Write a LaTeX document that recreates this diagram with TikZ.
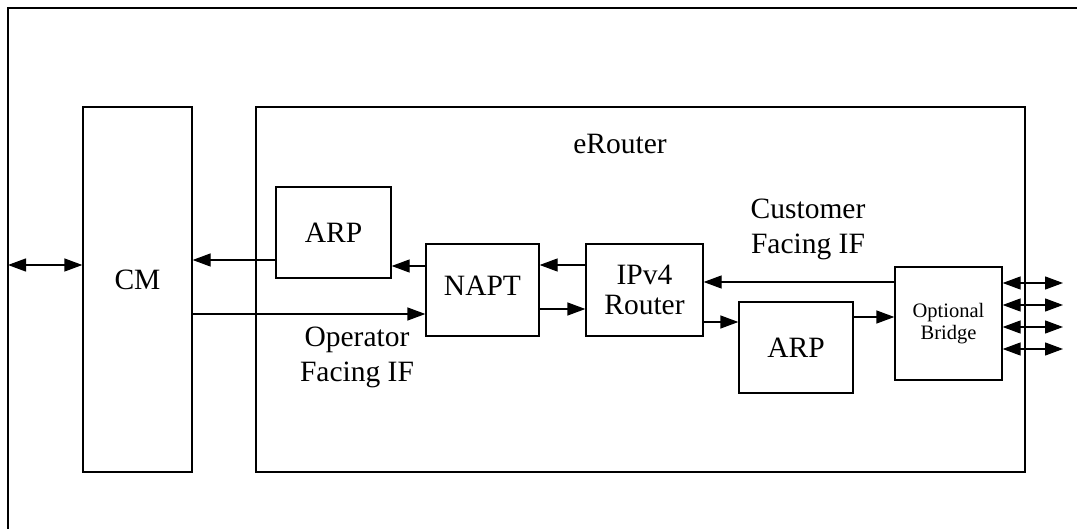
\documentclass[tikz,border=0pt]{standalone}
\usepackage{fontspec}
\setmainfont{Liberation Serif}
\usetikzlibrary{arrows.meta}
\begin{document}
\begin{tikzpicture}[x=1pt,y=-1pt, line width=1.3pt,
  box/.style={draw, line width=1.3pt, inner sep=0pt, font=\fontsize{29.5}{35}\selectfont, align=center},
  arr/.style={-{Triangle[length=18pt,width=13pt]}, line width=1.3pt},
  darr/.style={{Triangle[length=18pt,width=13pt]}-{Triangle[length=18pt,width=13pt]}, line width=1.3pt},
  lbl/.style={font=\fontsize{29.5}{35}\selectfont, align=center, inner sep=0pt}]
\useasboundingbox (0,0) rectangle (1077,529);
% outer frame (only top and left edges visible)
\draw (8,540) -- (8,8) -- (1090,8);
% boxes
\node[box, minimum width=109pt, minimum height=365pt, text height=20pt, text depth=20pt] (CM) at (137.5,289.5) {CM};
\node[box, minimum width=769pt, minimum height=365pt] (ER) at (640.5,289.5) {};
\node[lbl] (ERL) at (620,143.5) {eRouter};
\node[box, minimum width=115pt, minimum height=91pt] (ARP1) at (333.5,232.5) {ARP};
\node[box, minimum width=113pt, minimum height=92pt, text height=20pt, text depth=9pt] (NAPT) at (482.5,290) {NAPT};
\node[box, minimum width=117pt, minimum height=92pt, font=\fontsize{29.5}{30}\selectfont] (IP) at (644.5,290) {IPv4\\Router};
\node[box, minimum width=114pt, minimum height=91pt] (ARP2) at (796,347.5) {ARP};
\node[box, minimum width=107pt, minimum height=113pt, font=\fontsize{20.5}{22}\selectfont] (BR) at (948.5,323.5) {Optional\\Bridge};
% labels
\node[lbl] (CUST) at (808,229) {Customer\\Facing IF};
\node[lbl] (OPER) at (357,357) {Operator\\Facing IF};
% helper coordinates
\coordinate (L) at (8,265);
\coordinate (y260) at (0,260);
\coordinate (y266) at (0,266);
\coordinate (y314) at (0,314);
\coordinate (y265) at (0,265);
\coordinate (y309) at (0,309);
\coordinate (y282) at (0,282);
\coordinate (y322) at (0,322);
\coordinate (y317) at (0,317);
\coordinate (R1) at (1063,283);
\coordinate (R2) at (1063,305);
\coordinate (R3) at (1063,327);
\coordinate (R4) at (1063,349);
% connectors
\draw[darr] (L) -- (CM.west |- L);
\draw[arr] (ARP1.west |- y260) -- (CM.east |- y260);
\draw[arr] (NAPT.west |- y266) -- (ARP1.east |- y266);
\draw[arr] (CM.east |- y314) -- (NAPT.west |- y314);
\draw[arr] (IP.west |- y265) -- (NAPT.east |- y265);
\draw[arr] (NAPT.east |- y309) -- (IP.west |- y309);
\draw[arr] (BR.west |- y282) -- (IP.east |- y282);
\draw[arr] (IP.east |- y322) -- (ARP2.west |- y322);
\draw[arr] (ARP2.east |- y317) -- (BR.west |- y317);
\draw[darr] (BR.east |- R1) -- (R1);
\draw[darr] (BR.east |- R2) -- (R2);
\draw[darr] (BR.east |- R3) -- (R3);
\draw[darr] (BR.east |- R4) -- (R4);
\end{tikzpicture}
\end{document}
